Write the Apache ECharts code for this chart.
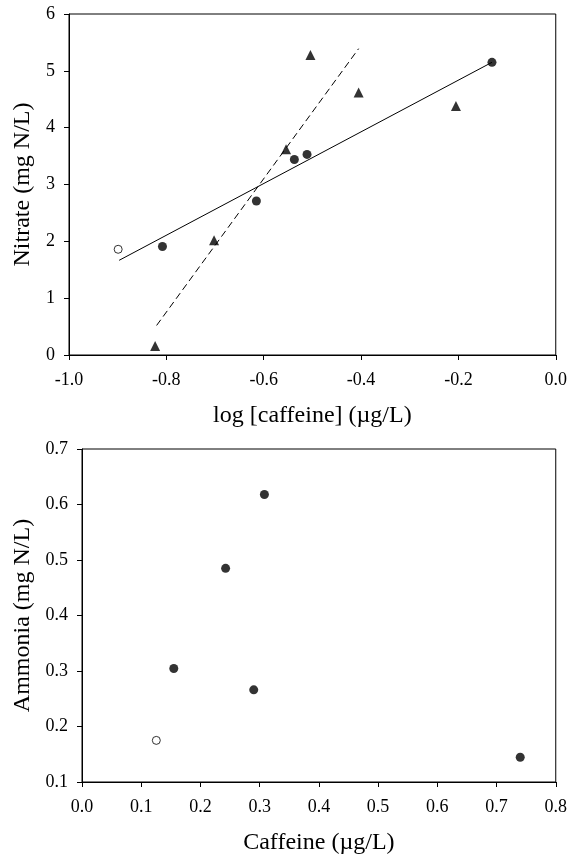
<!DOCTYPE html>
<html>
<head>
<meta charset="utf-8">
<script src="https://cdn.jsdelivr.net/npm/echarts@6/dist/echarts.min.js"></script>
<style>
html,body{margin:0;padding:0;background:#fff;}
#chart{width:570px;height:860px;}
</style>
</head>
<body>
<div id="chart"></div>
<script>
// ---- Top panel: nitrate vs log[caffeine] ----
var nitrateCircles = [[-0.808, 1.91], [-0.615, 2.71], [-0.537, 3.44], [-0.511, 3.53], [-0.131, 5.15]];
var nitrateOpen = [[-0.899, 1.86]];
var nitrateTriangles = [[-0.823, 0.16], [-0.702, 2.02], [-0.554, 3.62], [-0.504, 5.28], [-0.405, 4.62], [-0.205, 4.38]];
var nitrateFitSolid = [[-0.897, 1.666], [-0.131, 5.15]];
var nitrateFitDashed = [[-0.82, 0.52], [-0.405, 5.39]];
var topXTicks = { min: -1.0, max: 0.0, interval: 0.2 };
var topYTicks = { min: 0, max: 6, interval: 1 };

// ---- Bottom panel: ammonia vs caffeine ----
var ammoniaCircles = [[0.308, 0.618], [0.2425, 0.485], [0.155, 0.3045], [0.290, 0.266], [0.740, 0.1445]];
var ammoniaOpen = [[0.1255, 0.175]];
var bottomXTicks = { min: 0.0, max: 0.8, interval: 0.1 };
var bottomYTicks = { min: 0.1, max: 0.7, interval: 0.1 };

var FONT = '"Liberation Serif", "Times New Roman", serif';
var TICK_SIZE = 18;
var NAME_SIZE = 24;

function axisCommon() {
  return {
    axisLine: { show: true, onZero: false, lineStyle: { color: '#000', width: 1 } },
    axisTick: { show: true, inside: false, length: 5, lineStyle: { color: '#000', width: 1 } },
    splitLine: { show: false },
    nameTextStyle: { fontFamily: FONT, fontSize: NAME_SIZE, color: '#000' }
  };
}

function xAxis(gridIndex, t, name, gap) {
  var a = axisCommon();
  a.type = 'value';
  a.gridIndex = gridIndex;
  a.min = t.min; a.max = t.max; a.interval = t.interval;
  a.name = name; a.nameLocation = 'middle'; a.nameGap = gap;
  a.axisLabel = { fontFamily: FONT, fontSize: TICK_SIZE, color: '#000', margin: 16,
    formatter: function (v) { return v.toFixed(1); } };
  return a;
}
function yAxis(gridIndex, t, name, gap, dec, margin) {
  var a = axisCommon();
  a.type = 'value';
  a.gridIndex = gridIndex;
  a.min = t.min; a.max = t.max; a.interval = t.interval;
  a.name = name; a.nameLocation = 'middle'; a.nameGap = gap;
  a.axisLabel = { fontFamily: FONT, fontSize: TICK_SIZE, color: '#000', margin: margin,
    formatter: function (v) { return v.toFixed(dec); } };
  return a;
}

var option = {
  backgroundColor: '#fff',
  animation: false,
  grid: [
    { left: 69, top: 14, width: 487, height: 341, show: true, borderColor: '#000', borderWidth: 1, backgroundColor: 'transparent' },
    { left: 82, top: 449, width: 474, height: 333, show: true, borderColor: '#000', borderWidth: 1, backgroundColor: 'transparent' }
  ],
  xAxis: [
    xAxis(0, topXTicks, 'log [caffeine] (\u00b5g/L)', 49),
    xAxis(1, bottomXTicks, 'Caffeine (\u00b5g/L)', 49)
  ],
  yAxis: [
    yAxis(0, topYTicks, 'Nitrate (mg N/L)', 32, 0, 14),
    yAxis(1, bottomYTicks, 'Ammonia (mg N/L)', 45, 1, 14)
  ],
  series: [
    { type: 'line', xAxisIndex: 0, yAxisIndex: 0, data: nitrateFitSolid, showSymbol: false, symbol: 'none',
      lineStyle: { color: '#000', width: 1 }, z: 1 },
    { type: 'line', xAxisIndex: 0, yAxisIndex: 0, data: nitrateFitDashed, showSymbol: false, symbol: 'none',
      lineStyle: { color: '#000', width: 1, type: [7, 4] }, z: 1 },
    { type: 'scatter', xAxisIndex: 0, yAxisIndex: 0, data: nitrateCircles, symbol: 'circle', symbolSize: 9,
      itemStyle: { color: '#000' }, z: 3 },
    { type: 'scatter', xAxisIndex: 0, yAxisIndex: 0, data: nitrateOpen, symbol: 'circle', symbolSize: 8,
      itemStyle: { color: '#fff', borderColor: '#000', borderWidth: 1 }, z: 3 },
    { type: 'scatter', xAxisIndex: 0, yAxisIndex: 0, data: nitrateTriangles, symbol: 'triangle', symbolSize: 10,
      itemStyle: { color: '#000' }, z: 3 },
    { type: 'scatter', xAxisIndex: 1, yAxisIndex: 1, data: ammoniaCircles, symbol: 'circle', symbolSize: 9,
      itemStyle: { color: '#000' }, z: 3 },
    { type: 'scatter', xAxisIndex: 1, yAxisIndex: 1, data: ammoniaOpen, symbol: 'circle', symbolSize: 8,
      itemStyle: { color: '#fff', borderColor: '#000', borderWidth: 1 }, z: 3 }
  ]
};

var chart = echarts.init(document.getElementById('chart'), null, { renderer: 'canvas', width: 570, height: 860 });
chart.setOption(option);
</script>
</body>
</html>
